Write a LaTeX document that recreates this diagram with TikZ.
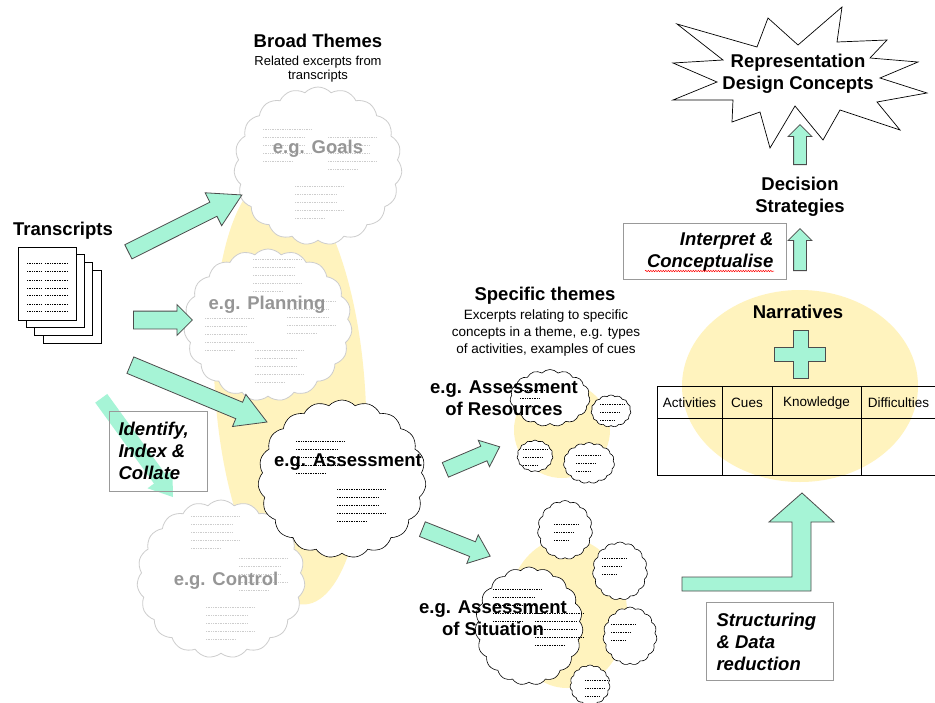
\documentclass[tikz,border=0pt]{standalone}
\usepackage{fontspec}
\setmainfont{Liberation Sans}
\usetikzlibrary{shapes.symbols, shapes.arrows, decorations.pathmorphing}

\definecolor{themegreen}{RGB}{166,244,214}
\definecolor{themeyellow}{RGB}{255,243,190}
\definecolor{cloudgray}{RGB}{205,205,205}
\definecolor{labelgray}{RGB}{150,150,150}

% five dotted lines standing for excerpt text
\newcommand{\excerpt}[3]{%
  \foreach \len [count=\i from 0] in {48,41,41,48,30}
    \draw[filler,#3] (#1,{#2+8.2*\i}) -- ++(\len,0);
}
% three short dotted lines for the small clouds
\newcommand{\smallexcerpt}[2]{%
  \foreach \len [count=\i from 0] in {24,20,14}
    \draw[filler] (#1,{#2+8*\i}) -- ++(\len,0);
}

\begin{document}
\begin{tikzpicture}[
    x=1pt, y=-1pt,
    title/.style={font=\fontsize{18.5}{22}\selectfont\bfseries, align=center},
    sub/.style={font=\fontsize{13}{14}\selectfont, align=center},
    theme/.style={font=\fontsize{18.5}{22}\selectfont\bfseries, align=center},
    note/.style={font=\fontsize{18.5}{22}\selectfont\bfseries\itshape},
    head/.style={font=\fontsize{13.5}{15}\selectfont},
    lightcloud/.style={cloud, cloud puffs=19, cloud puff arc=95,
        cloud ignores aspect, draw=cloudgray, fill=white, thick, inner sep=0pt},
    darkcloud/.style={lightcloud, draw=black, semithick},
    tinycloud/.style={darkcloud, cloud puffs=15},
    filler/.style={dash pattern=on 0.8pt off 0.9pt, line width=0.7pt},
    garrow/.style={single arrow, draw=black!70, fill=themegreen, line width=0.8pt,
        minimum width=0pt, inner xsep=0pt, text height=0pt, text depth=0pt,
        single arrow head indent=0pt, anchor=tail},
    arrowline/.style={draw=black!70, fill=themegreen, line width=0.8pt},
    notebox/.style={draw=black!40, thick},
    pagebox/.style={draw=black, fill=white, thick}
]

\fill[white] (0,0) rectangle (935,702);
\useasboundingbox (0,0) rectangle (935,702);

% =========================
% BACKGROUND GROUPS
% =========================
\fill[themeyellow, rotate around={4:(290,390)}] (290,390) ellipse [x radius=75, y radius=215];
\fill[themeyellow] (562,430) circle [radius=48];
\fill[themeyellow] (567,613) ellipse [x radius=60, y radius=75];
\fill[themeyellow] (800,386) ellipse [x radius=118, y radius=96];

% =========================
% TRANSCRIPTS
% =========================
\node[title] (transcripts) at (63,231) {Transcripts};
\foreach \k in {3,2,1,0}
    \draw[pagebox] ({18+8.3*\k},{247+7.7*\k}) rectangle ++(58,73);
\foreach \y in {263,271,280,288,295,304,311} {
    \draw[filler] (27,\y) -- (42,\y);
    \draw[filler] (45,\y) -- (68,\y);
}

% =========================
% BROAD THEMES
% =========================
\node[title] (broad) at (318,41) {Broad Themes};
\node[sub] (broadsub) at (318,69) {Related excerpts from\\transcripts};

\node[lightcloud, minimum width=168, minimum height=158] (goals) at (318,166) {};
\node[lightcloud, minimum width=168, minimum height=152] (planning) at (268,325) {};
\node[lightcloud, minimum width=168, minimum height=158] (control) at (221,579) {};
\node[darkcloud, minimum width=168, minimum height=158] (assess) at (342,479) {};

% excerpt lines
\excerpt{263}{129}{cloudgray}
\excerpt{328}{137}{cloudgray}
\excerpt{295}{186}{cloudgray}
\excerpt{253}{259}{cloudgray}
\excerpt{205}{318}{cloudgray}
\excerpt{287}{301}{cloudgray}
\excerpt{255}{350}{cloudgray}
\excerpt{191}{516}{cloudgray}
\excerpt{239}{558}{cloudgray}
\excerpt{206}{607}{cloudgray}
\excerpt{296}{441}{black}
\excerpt{337}{489}{black}

\node[theme, text=labelgray] (goalslabel) at (318,149) {e.g. Goals};
\node[theme, text=labelgray] (planninglabel) at (267,305) {e.g. Planning};
\node[theme, text=labelgray] (controllabel) at (226,581) {e.g. Control};
\node[theme] (assesslabel) at (348,462) {e.g. Assessment};

% arrows from the transcripts
\node[garrow, rotate=26.6, minimum height=127, inner ysep=7.5pt,
    single arrow head extend=10.5pt, single arrow tip angle=60] (toGoals) at (128,252) {};
\node[garrow, minimum height=59, inner ysep=8.5pt,
    single arrow head extend=6.5pt] (toPlanning) at (133,320) {};
\node[garrow, rotate=-22.6, minimum height=148, inner ysep=8.5pt,
    single arrow head extend=8.5pt, single arrow tip angle=60] (toAssess) at (130,365) {};
\node[garrow, draw=none, rotate=-54, minimum height=122, inner ysep=7pt,
    single arrow head extend=8pt, single arrow tip angle=70] (toControl) at (101,398) {};

\draw[notebox] (109,411) rectangle (207,491);
\node[note, align=left, anchor=west] (identify) at (115,451) {Identify,\\Index \&\\Collate};

% =========================
% SPECIFIC THEMES
% =========================
\node[title] (specific) at (545,296) {Specific themes};
\node[sub, font=\fontsize{13.5}{17}\selectfont] (specificsub) at (546,333)
    {Excerpts relating to specific\\concepts in a theme, e.g. types\\of activities, examples of cues};

% resources group
\node[tinycloud, minimum width=80, minimum height=57] (res1) at (550,398) {};
\node[tinycloud, minimum width=40, minimum height=32] (res2) at (611,411) {};
\node[tinycloud, minimum width=36, minimum height=32] (res3) at (535,456) {};
\node[tinycloud, minimum width=51, minimum height=41] (res4) at (589,463) {};
\smallexcerpt{600}{404}
\smallexcerpt{523}{449}
\smallexcerpt{576}{455}
\smallexcerpt{520}{390}
\node[theme] (resources) at (504,398) {e.g. Assessment\\of Resources};

% situation group
\node[darkcloud, minimum width=108, minimum height=118] (sit1) at (529,626) {};
\node[tinycloud, minimum width=55, minimum height=59] (sit2) at (565,530) {};
\node[tinycloud, minimum width=55, minimum height=58] (sit3) at (620,571) {};
\node[tinycloud, minimum width=54, minimum height=58] (sit4) at (630,636) {};
\node[tinycloud, minimum width=40, minimum height=40] (sit5) at (590,685) {};
\excerpt{493}{589}{black}
\excerpt{535}{613}{black}
\smallexcerpt{554}{524}
\smallexcerpt{602}{558}
\smallexcerpt{611}{624}
\smallexcerpt{585}{680}
\node[theme] (situation) at (493,618) {e.g. Assessment\\of Situation};

\node[garrow, rotate=23, minimum height=59, inner ysep=7.5pt,
    single arrow head extend=6.5pt, single arrow tip angle=80] (toResources) at (445,470) {};
\node[garrow, rotate=-21.7, minimum height=73, inner ysep=7.5pt,
    single arrow head extend=7.5pt, single arrow tip angle=78] (toSituation) at (422,529) {};

% =========================
% NARRATIVES
% =========================
\node[title] (narratives) at (798,312) {Narratives};
\draw[arrowline] (793,330) -- (808,330) -- (808,347) -- (825,347) -- (825,361)
    -- (808,361) -- (808,378) -- (793,378) -- (793,361) -- (774,361)
    -- (774,347) -- (793,347) -- cycle;

% table
\draw[thick] (657,386) rectangle (940,475);
\draw[thick] (657,418) -- (940,418);
\foreach \x in {722,772,861}
    \draw[thick] (\x,386) -- (\x,475);
\node[head] (activities) at (689.5,403) {Activities};
\node[head] (cues) at (747,403) {Cues};
\node[head] (knowledge) at (816.5,403) {Knowledge};
\node[head] (difficulties) at (898.5,403) {Difficulties};

% structuring arrow
\draw[arrowline] (682,577) -- (792,577) -- (792,522) -- (769,522) -- (802,493)
    -- (834,522) -- (811,522) -- (811,591) -- (682,591) -- cycle;
\draw[notebox] (706,602) rectangle (833,680);
\node[note, align=left, anchor=west] (structuring) at (713,642) {Structuring\\\& Data\\reduction};

% =========================
% DECISION STRATEGIES AND CONCEPTS
% =========================
\draw[notebox] (623,223) rectangle (786,279);
\node[note, align=right, anchor=east] (interpret) at (777,252) {Interpret \&\\Conceptualise};
\draw[red, line width=0.5pt, decorate, decoration={snake, amplitude=0.7pt, segment length=2.5pt}]
    (645,271) -- (774,271);
\node[garrow, rotate=90, minimum height=42, inner ysep=6pt,
    single arrow head extend=5.5pt] (toStrategies) at (800,271) {};
\node[title] (strategies) at (800,197) {Decision\\Strategies};
\node[garrow, rotate=90, minimum height=40, inner ysep=6pt,
    single arrow head extend=5.5pt] (toConcepts) at (800,165) {};

% star
\draw[black, fill=white, line width=0.7pt]
    (677,24) -- (757,47) -- (768,18) -- (798,45) -- (842,7) -- (837,42)
    -- (887,40) -- (870,58) -- (918,62) -- (880,78) -- (927,93) -- (877,102)
    -- (900,130) -- (840,110) -- (823,140) -- (795,106) -- (770,148) -- (760,112)
    -- (732,122) -- (733,100) -- (673,100) -- (717,82) -- (673,63) -- (723,60) -- cycle;
\node[title] (concepts) at (798,74) {Representation\\Design Concepts};

\end{tikzpicture}
\end{document}
